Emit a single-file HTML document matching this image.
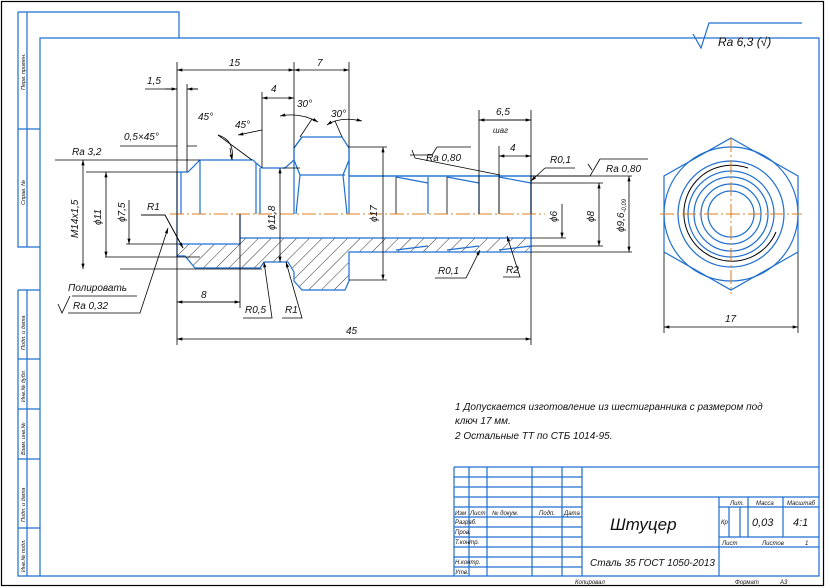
<!DOCTYPE html>
<html><head><meta charset="utf-8"><style>
body{margin:0;background:#fff}
svg{display:block}
text{font-family:"Liberation Sans","DejaVu Sans",sans-serif;font-style:italic;fill:#111}
.b{stroke:#1f6fd0;fill:none;stroke-width:1.2}
.k{stroke:#000;fill:none;stroke-width:0.8}
.c{stroke:#e07b1a;stroke-width:1;stroke-dasharray:14 3 2 3;fill:none}
</style></head><body>
<svg width="830" height="588" viewBox="0 0 830 588" xmlns="http://www.w3.org/2000/svg">
<defs>
<pattern id="h" width="9" height="9" patternUnits="userSpaceOnUse" patternTransform="rotate(45)">
<line x1="0" y1="0" x2="0" y2="9" stroke="#000" stroke-width="0.8"/></pattern>
<marker id="a" viewBox="0 0 10 6" refX="10" refY="3" markerWidth="8" markerHeight="4" orient="auto-start-reverse"><path d="M0 0L10 3L0 6z" fill="#000"/></marker>
</defs>
<rect x="1.5" y="1.5" width="822" height="584" fill="none" stroke="#000" stroke-width="1.2"/>
<!-- frame -->
<g class="b">
<path d="M40 38H819V576H40Z"/>
<path d="M18 12H179V38"/><path d="M18 12V247H40M27 12V247M18 129H40"/>
<path d="M18 290H40M18 290V576H40M27 290V576M18 359H40M18 409H40M18 459H40M18 528H40"/>
<!-- title block -->
<path d="M454 467H819M454 467V576M454 477H582M454 487H582M454 497H819M454 507H582M454 517H582M454 527H582M454 537H582M454 547H819M454 557H582M454 567H582"/>
<path d="M469 467V576M487 467V576M532 467V576M562 467V576M582 467V576M719 497V576M748 497V537M783 497V537M719 507H819M719 537H819M729 507V537M740 507V537"/>
</g>
<g font-size="6">
<text x="455" y="515">Изм</text><text x="470" y="515">Лист</text><text x="492" y="515">№ докум.</text><text x="539" y="515">Подп.</text><text x="564" y="515">Дата</text>
<text x="455" y="524">Разраб.</text><text x="455" y="534">Пров.</text><text x="455" y="544">Т.контр.</text><text x="455" y="564">Н.контр.</text><text x="455" y="574">Утв.</text>
<text x="730" y="505">Лит.</text><text x="756" y="505">Масса</text><text x="787" y="505">Масштаб</text>
<text x="721" y="524">Кр</text><text x="722" y="545">Лист</text><text x="762" y="545">Листов</text><text x="805" y="545">1</text>
<text x="575" y="584">Копировал</text><text x="735" y="584">Формат</text><text x="780" y="584">А3</text>
</g>
<text x="610" y="530" font-size="17">Штуцер</text>
<text x="590" y="566" font-size="10">Сталь 35 ГОСТ 1050-2013</text>
<text x="752" y="526" font-size="11">0,03</text><text x="793" y="526" font-size="11">4:1</text>
<g font-size="5.5">
<text transform="translate(25,90) rotate(-90)">Перв. примен.</text>
<text transform="translate(25,205) rotate(-90)">Справ. №</text>
<text transform="translate(25,350) rotate(-90)">Подп. и дата</text>
<text transform="translate(25,402) rotate(-90)">Инв.№ дубл.</text>
<text transform="translate(25,455) rotate(-90)">Взам. инв.№</text>
<text transform="translate(25,522) rotate(-90)">Подп. и дата</text>
<text transform="translate(25,572) rotate(-90)">Инв.№ подл.</text>
</g>
<!-- roughness top right -->
<path d="M693 34L701 48L709 23H802" class="b"/>
<text x="718" y="46" font-size="12">Ra 6,3 (√)</text>
<!-- main part: hatched section -->
<path d="M177 244H240V238H531V252H349V281L345 290H302L294 281V272L288 262H264L260 268H195L185 256L177 256Z" fill="url(#h)"/>
<g class="b">
<path d="M177 172V256L185 256L195 268H260L264 262H288L294 272V281L302 290H345L349 281V252H531V176H349V148L342 137H302L294 148V160L285 168H262L256 163L253 160H200L188 172Z"/>
<path d="M181 172V214M200 160V214M256 163V214M260 168V214M294 148V214M349 148V214M302 137L294 148M300 175H345M294 160L300 175L296 214M349 160L343 175L347 214"/>
<path d="M177 244H240V214M240 238H531M349 176H531"/>
<path d="M396 177L428 183M447 177L479 183M499 177L531 183M396 250L428 246M447 250L479 246M499 250L531 246"/>
<path d="M428 177V214M479 177V214M531 176V252"/>
</g>
<g class="k">
<path d="M396 177V214M447 177V214M499 177V214"/>
</g>
<line x1="170" y1="214" x2="545" y2="214" class="c"/>
<!-- dimension lines -->
<g class="k">
<path d="M177 62V214M294 62V148M349 62V148M187 84V172M262 92V168M531 110V214"/>
<path d="M177 70H294" marker-start="url(#a)" marker-end="url(#a)"/>
<path d="M294 70H349" marker-start="url(#a)" marker-end="url(#a)"/>
<path d="M145 89H177M187 89H198"/><path d="M165 89H177" marker-end="url(#a)"/><path d="M198 89H187" marker-end="url(#a)"/>
<path d="M262 98H294" marker-start="url(#a)" marker-end="url(#a)"/>
<path d="M120 146H177M187 146H197"/>
<path d="M55 160H200M86 172H177M55 160L60 160M120 269H262M105 257H200M126 244H177M283 168H300"/>
<path d="M83 160V269" marker-start="url(#a)" marker-end="url(#a)"/>
<path d="M106 172V257" marker-start="url(#a)" marker-end="url(#a)"/>
<path d="M129 200V244" marker-end="url(#a)"/>
<path d="M280 168V262" marker-start="url(#a)" marker-end="url(#a)"/>
<path d="M349 147H387M349 280H387"/><path d="M383 147V280" marker-start="url(#a)" marker-end="url(#a)"/>
<path d="M218 135Q235 140 232 160"/><path d="M230 148L232 160" marker-end="url(#a)"/>
<path d="M238 135L262 130" marker-start="url(#a)"/>
<path d="M280 116Q300 112 318 122" marker-start="url(#a)" marker-end="url(#a)"/>
<path d="M327 125Q340 116 362 121" marker-start="url(#a)" marker-end="url(#a)"/>
<path d="M300 137L312 119M342 137L335 121M218 135L252 160"/>
<path d="M240 214V308M177 302H240" /><path d="M177 302H240" marker-start="url(#a)" marker-end="url(#a)"/>
<path d="M177 214V345M531 252V345"/><path d="M177 339H531" marker-start="url(#a)" marker-end="url(#a)"/>
<path d="M141 215H165L183 248"/><path d="M141 215H165L183 248" marker-end="url(#a)"/>
<path d="M68 313H140L168 228" marker-end="url(#a)"/>
<path d="M72 296H137"/><path d="M58 304L62 313L70 296"/>
<path d="M243 318H272L264 262" marker-end="url(#a)"/>
<path d="M282 318H302L286 262" marker-end="url(#a)"/>
<path d="M479 110V214M479 120H531" /><path d="M479 120H531" marker-start="url(#a)" marker-end="url(#a)"/>
<path d="M499 146V214"/><path d="M499 156H531" marker-start="url(#a)" marker-end="url(#a)"/>
<path d="M545 168H575M545 168L531 181" marker-end="url(#a)"/>
<path d="M600 159H648M600 159L590 176H531M592 170L588 164"/>
<path d="M531 183H603M531 246H603M531 252H632M531 176H632"/>
<path d="M562 204V238" marker-end="url(#a)"/><path d="M531 238H566"/>
<path d="M599 183V246" marker-start="url(#a)" marker-end="url(#a)"/>
<path d="M629 176V252" marker-start="url(#a)" marker-end="url(#a)"/>
<path d="M437 147H471M437 147L432 155L410 155M412 150L415 158M415 158L500 175"/>
<path d="M435 278H466L480 250" marker-end="url(#a)"/>
<path d="M503 277H520L507 236" marker-end="url(#a)"/>
<path d="M664 252V333M798 252V333"/><path d="M664 327H798" marker-start="url(#a)" marker-end="url(#a)"/>
</g>
<!-- right view -->
<g class="b">
<path d="M731 138L798 176V252L731 290L664 252V176Z"/>
<circle cx="731" cy="214" r="67"/><circle cx="731" cy="214" r="53"/><circle cx="731" cy="214" r="43"/>
<circle cx="731" cy="214" r="37"/><circle cx="731" cy="214" r="30"/><circle cx="731" cy="214" r="23"/>
</g>
<path d="M748 168A48 48 0 1 0 776 232" fill="none" stroke="#000" stroke-width="1"/>
<line x1="660" y1="214" x2="802" y2="214" class="c"/>
<line x1="731" y1="138" x2="731" y2="294" class="c"/>
<!-- labels -->
<g font-size="10">
<text x="229" y="66">15</text><text x="317" y="66">7</text><text x="147" y="84">1,5</text><text x="271" y="92">4</text>
<text x="124" y="140">0,5×45°</text>
<text x="72" y="155">Ra 3,2</text>
<text x="198" y="120">45°</text><text x="235" y="128">45°</text><text x="297" y="107">30°</text><text x="331" y="117">30°</text>
<text x="147" y="210">R1</text>
<text transform="translate(78,238) rotate(-90)">M14x1,5</text>
<text transform="translate(101,225) rotate(-90)">ϕ11</text>
<text transform="translate(125,222) rotate(-90)">ϕ7,5</text>
<text transform="translate(275,230) rotate(-90)">ϕ11,8</text>
<text transform="translate(377,222) rotate(-90)">ϕ17</text>
<text transform="translate(557,222) rotate(-90)">ϕ6</text>
<text transform="translate(594,222) rotate(-90)">ϕ8</text>
<text transform="translate(624,232) rotate(-90)">ϕ9,6<tspan font-size="6" dy="2">-0,09</tspan></text>
<text x="68" y="291">Полировать</text><text x="73" y="309">Ra 0,32</text>
<text x="201" y="298">8</text><text x="346" y="334">45</text>
<text x="245" y="313">R0,5</text><text x="285" y="313">R1</text>
<text x="496" y="115">6,5</text><text x="493" y="133" font-size="8">шаг</text><text x="510" y="151">4</text>
<text x="550" y="163">R0,1</text><text x="606" y="172">Ra 0,80</text>
<text x="426" y="161">Ra 0,80</text>
<text x="438" y="274">R0,1</text><text x="506" y="273">R2</text>
<text x="725" y="322">17</text>
<text x="455" y="410">1 Допускается  изготовление  из  шестигранника  с  размером  под</text>
<text x="455" y="424">ключ 17 мм.</text>
<text x="455" y="439">2  Остальные ТТ по СТБ 1014-95.</text>
</g>
</svg>
</body></html>
